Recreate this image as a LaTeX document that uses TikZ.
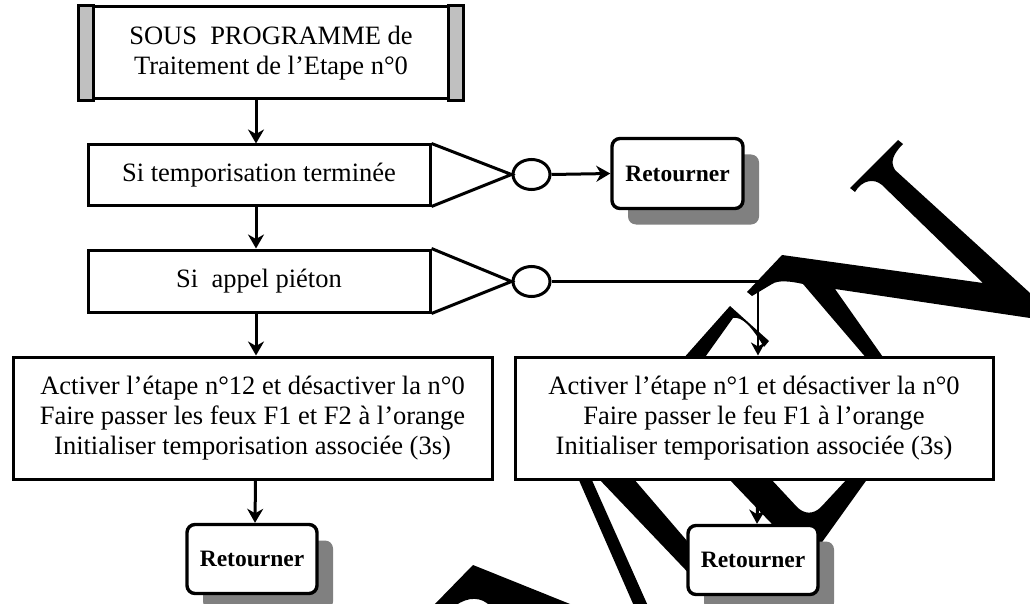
\documentclass[tikz,border=0pt]{standalone}
\usepackage{fontspec}
\setmainfont{Liberation Serif}
\usetikzlibrary{arrows.meta,shapes.geometric,shadows}

\definecolor{shadowgray}{RGB}{128,128,128}
\definecolor{bargray}{RGB}{192,192,192}

\begin{document}
\begin{tikzpicture}[x=1pt,y=-1pt,
  txt/.style={font=\fontsize{26.5}{30}\selectfont},
  box/.style={txt,draw,line width=3pt,fill=white,inner sep=0pt,align=center},
  oval/.style={ellipse,draw,line width=3pt,fill=white,inner sep=0pt,minimum width=37pt,minimum height=30pt},
  retbox/.style={draw,line width=3.4pt,fill=white,rounded corners=8pt,inner sep=0pt,
    minimum width=130pt,minimum height=69pt,font=\fontsize{23.5}{28}\selectfont\bfseries,
    drop shadow={shadow xshift=16pt,shadow yshift=-16pt,fill=shadowgray,opacity=1}},
  flow/.style={line width=3pt,-{Stealth[length=14pt,width=16pt,inset=4.5pt]}},
  thinflow/.style={line width=2.4pt,-{Stealth[length=13pt,width=14pt,inset=4pt]}},
  ink/.style={fill=black}
]
\useasboundingbox (0,0) rectangle (1030,604);

% heavy black strokes lying behind the boxes
\fill[ink] (782,255) -- (983,283) -- (882,185)
  .. controls (874,178) and (862,180) .. (855,192) -- (850,188) -- (898,140) -- (903,144)
  .. controls (893,154) and (890,162) .. (895,170) -- (1030,293) -- (1030,318)
  -- (835,289) -- (885,360) -- (868,360) -- (803,284)
  .. controls (790,281) and (778,280) .. (772,284) -- (752,296) -- (747,292) -- cycle;
\fill[ink] (682,360) -- (730,306) -- (769,341) -- (764,347)
  .. controls (752,327) and (742,316) .. (733,318) -- (703,360) -- cycle;
\fill[ink] (578,478) -- (591,478) -- (648,606) -- (634,606) -- cycle;
\fill[ink] (598,478) -- (633,478) -- (700,556) -- (700,585) -- cycle;
\fill[ink] (728,478) -- (792,545) -- (820,545) -- (868,478) -- (848,478) -- (821,507)
  .. controls (813,515) and (804,514) .. (797,507) -- (770,478) -- cycle;
\fill[ink] (433,606) -- (473,565) -- (575,606) -- (490,606)
  .. controls (482,597) and (468,596) .. (455,606) -- cycle;

% title block with grey side bars
\node[box,minimum width=382pt,minimum height=92pt] (title) at (271,53)
  {SOUS\ \ PROGRAMME de\\Traitement de l’Etape n°0};
\fill[bargray,draw=black,line width=3pt] (title.north west) rectangle ([xshift=15pt]title.south west);
\fill[bargray,draw=black,line width=3pt] ([xshift=-15pt]title.north east) rectangle (title.south east);

% tests
\node[box,minimum width=342pt,minimum height=60pt] (tempo) at (259,175) {Si temporisation terminée};
\node[box,minimum width=342pt,minimum height=62pt] (appel) at (259,281) {Si\ \ appel piéton};
\node[oval] (o1) at (531.5,174.5) {};
\node[oval] (o2) at (531.5,281.5) {};
\draw[line width=3pt,line join=miter] (tempo.north east) -- (o1.west) -- (tempo.south east);
\draw[line width=3pt,line join=miter] (appel.north east) -- (o2.west) -- (appel.south east);

% actions
\node[box,minimum width=479pt,minimum height=122pt] (act12) at (252.5,418)
  {Activer l’étape n°12 et désactiver la n°0\\Faire passer les feux F1 et F2 à l’orange\\Initialiser temporisation associée (3s)};
\node[box,minimum width=478pt,minimum height=122pt] (act1) at (754,418)
  {Activer l’étape n°1 et désactiver la n°0\\Faire passer le feu F1 à l’orange\\Initialiser temporisation associée (3s)};

% returns
\node[retbox,minimum width=131pt,minimum height=70pt] (ret0) at (677.5,173.5) {Retourner};
\node[retbox] (ret12) at (252,559) {Retourner};
\node[retbox] (ret1) at (753,560) {Retourner};

% connectors
\draw[flow] ([xshift=-3pt]tempo.north |- title.south) -- ([xshift=-3pt]tempo.north);
\draw[flow] ([xshift=-3pt]tempo.south) -- ([xshift=-3pt]appel.north);
\draw[flow] ([xshift=-3pt]appel.south) -- ([xshift=-3pt]appel.south |- act12.north);
\draw[flow] ([xshift=3pt]act12.south) -- ([xshift=3pt]ret12.north);
\draw[flow] (o1.east) -- (ret0.west);
\draw[thinflow] (o2.east) -| ([xshift=4pt]act1.north);
\draw[flow] ([xshift=4pt]act1.south) -- ([xshift=4pt]ret1.north);
\end{tikzpicture}
\end{document}
